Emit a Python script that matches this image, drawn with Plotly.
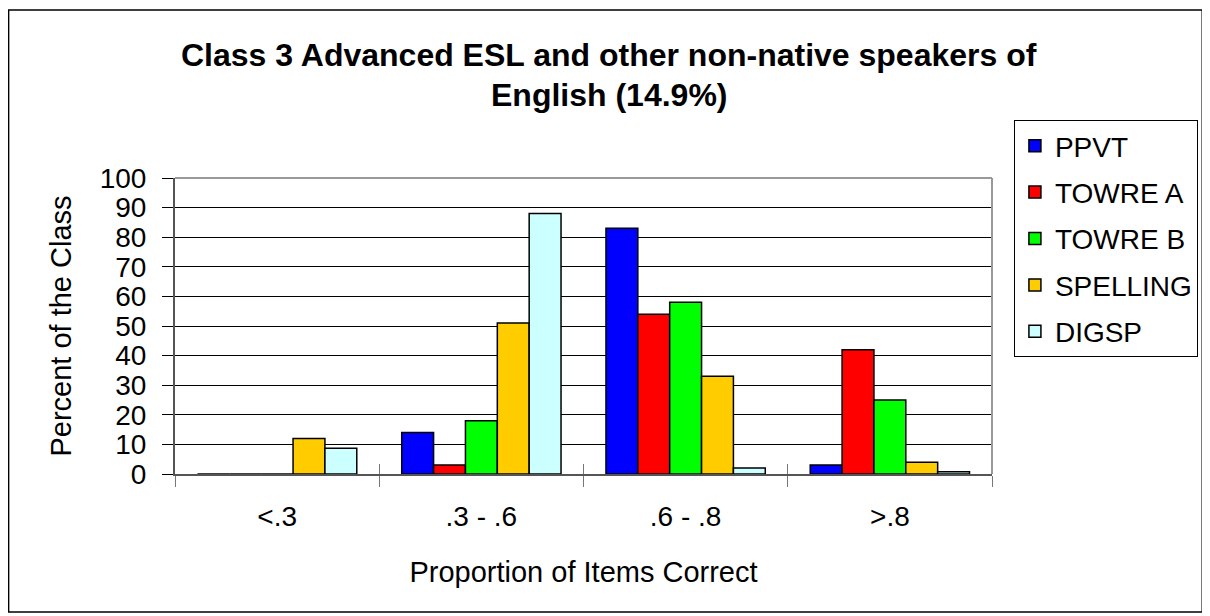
import plotly.graph_objects as go

categories = ["<.3", ".3 - .6", ".6 - .8", ">.8"]
series_names = ["PPVT", "TOWRE A", "TOWRE B", "SPELLING", "DIGSP"]
ppvt = [0, 14, 83, 3]
towre_a = [0, 3, 54, 42]
towre_b = [0, 18, 58, 25]
spelling = [12, 51, 33, 4]
digsp = [8.7, 88, 2, 0.8]
colors = ["#0000FF", "#FF0000", "#00FF00", "#FFCC00", "#CCFFFF"]

title_line1 = "Class 3 Advanced ESL and other non-native speakers of"
title_line2 = "English (14.9%)"
x_title = "Proportion of Items Correct"
y_title = "Percent of the Class"
y_ticks = list(range(0, 101, 10))

FONT = "Liberation Sans, Arial, sans-serif"
OFF = 8  # page body margin
W, H = 1202, 608
L, T = 175 - OFF, 178 - OFF
R = W - (995 - OFF)
B = H - (474 - OFF)
PW, PH = 820, 296


def px_x(p):
    return (p - 175) / PW


def px_y(p):
    return (474 - p) / PH


fig = go.Figure()
for i, (name, vals) in enumerate(zip(series_names, [ppvt, towre_a, towre_b, spelling, digsp])):
    fig.add_trace(go.Bar(
        x=categories, y=vals, name=name, legendgroup=name,
        marker=dict(color=colors[i], line=dict(color="black", width=1.5)),
    ))

# helper trace for the inside half of the crossing category ticks
fig.add_trace(go.Scatter(x=categories, y=[None] * len(categories), xaxis="x2",
                         showlegend=False, hoverinfo="skip", mode="markers"))

fig.update_layout(
    width=W, height=H,
    margin=dict(l=L, r=R, t=T, b=B),
    paper_bgcolor="white", plot_bgcolor="white",
    barmode="group", bargap=0.22, bargroupgap=0,
    font=dict(family=FONT, size=28, color="black"),
    showlegend=True,
    legend=dict(
        x=px_x(1017), y=px_y(120), xanchor="left", yanchor="top",
        bordercolor="black", borderwidth=1, bgcolor="white",
        font=dict(family=FONT, size=28, color="black"),
        traceorder="grouped", tracegroupgap=7,
    ),
    xaxis=dict(
        type="category", tickson="boundaries", ticks="outside", ticklen=11,
        tickcolor="#777777", tickwidth=1, ticklabelstandoff=17,
        showline=True, linecolor="#555555", linewidth=1.5,
        showgrid=False, zeroline=False,
        title=dict(text=x_title, font=dict(family=FONT, size=29), standoff=30),
        tickfont=dict(family=FONT, size=28),
    ),
    xaxis2=dict(
        type="category", overlaying="x", matches="x", tickson="boundaries",
        ticks="inside", ticklen=10, tickcolor="#777777", tickwidth=1,
        showticklabels=False, showline=False, showgrid=False, zeroline=False,
        side="bottom",
    ),
    yaxis=dict(
        range=[0, 100], tickvals=y_ticks, ticks="outside", ticklen=11,
        tickcolor="black", tickwidth=1, ticklabelstandoff=10,
        showline=True, linecolor="#555555", linewidth=2,
        showgrid=True, gridcolor="black", gridwidth=1, zeroline=False,
        title=dict(text=y_title, font=dict(family=FONT, size=29), standoff=20),
        tickfont=dict(family=FONT, size=28),
    ),
    shapes=[
        dict(type="line", xref="paper", yref="paper", x0=0, x1=1, y0=1, y1=1,
             line=dict(color="#999999", width=2)),
        dict(type="line", xref="paper", yref="paper", x0=1, x1=1, y0=0, y1=1,
             line=dict(color="#999999", width=2)),
        dict(type="rect", xref="paper", yref="paper",
             x0=px_x(8), x1=px_x(1206), y0=px_y(10), y1=px_y(612),
             line=dict(color="black", width=1.5), layer="below"),
    ],
    annotations=[
        dict(text="<b>" + title_line1 + "</b>", xref="paper", yref="paper",
             x=px_x(611), y=px_y(55), xanchor="center", yanchor="middle",
             showarrow=False, font=dict(family=FONT, size=32)),
        dict(text="<b>" + title_line2 + "</b>", xref="paper", yref="paper",
             x=px_x(611), y=px_y(95), xanchor="center", yanchor="middle",
             showarrow=False, font=dict(family=FONT, size=32)),
    ],
)

fig.write_html("out.html")
